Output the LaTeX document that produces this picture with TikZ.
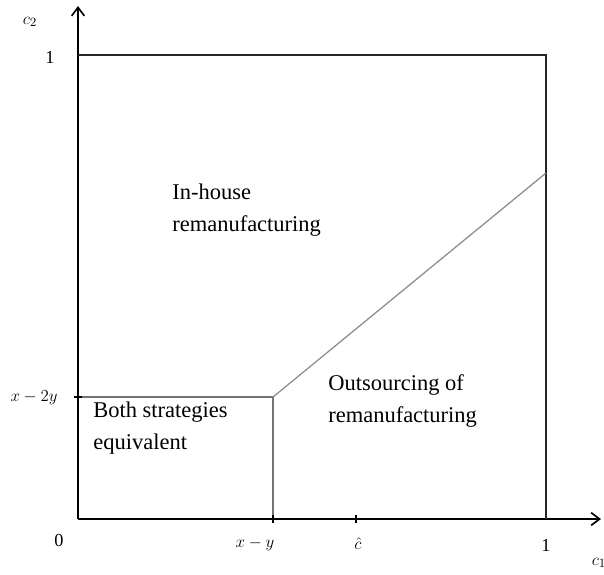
\documentclass[tikz,border=0pt]{standalone}
\usepackage{fontspec}
\setmainfont{Liberation Serif}
\usetikzlibrary{positioning,arrows.meta}
\tikzset{>={Straight Barb[length=6pt,width=9pt,line width=1.2pt]}}
\tikzset{region/.style={anchor=base west,align=left,inner sep=0pt,font=\fontsize{16}{22.5}\selectfont},
  axlabel/.style={font=\fontsize{13}{15}\selectfont}}

\begin{document}
\begin{tikzpicture}[x=0.025cm,y=-0.025cm]
\useasboundingbox (0,0) rectangle (604,574);

\coordinate (o) at (78,519);
\coordinate (xend) at (601,519);
\coordinate (yend) at (78,6);
\coordinate (tl) at (78,55);
\coordinate (tr) at (546,55);
\coordinate (br) at (546,519);
\coordinate (xy) at (273,519);
\coordinate (x2y) at (78,397);
\coordinate (k) at (273,397);
\coordinate (rr) at (546,173);
\coordinate (ch) at (356,519);

% axes and box
\draw[->,line width=1.4pt] (o) --(xend);
\draw[->,line width=1.4pt] (o) --(yend);
\draw[line width=1.6pt,black!85] (tl) --(tr) --(br);

% region borders
\draw[line width=0.9pt,black!55] (x2y) --(k) --(xy);
\draw[line width=0.9pt,black!45] (k) --(rr);

% ticks
\draw[line width=1.2pt] ([yshift=3pt]xy) --([yshift=-3pt]xy);
\draw[line width=1.2pt] ([yshift=3pt]ch) --([yshift=-3pt]ch);
\draw[line width=1.2pt] ([xshift=-3pt]x2y) --([xshift=3pt]x2y);

% axis labels
\node[axlabel] (c2) at (30,22){$c_2$};
\node[axlabel] (one2) at (50,57){1};
\node[axlabel] (lx2y) at (34,398){$x-2y$};
\node[axlabel] (zero) at (59,540){0};
\node[axlabel] (lxy) at (255,544){$x-y$};
\node[axlabel] (lch) at (358,544){$\hat{c}$};
\node[axlabel] (one1) at (546,545){1};
\node[axlabel] (c1) at (599,563){$c_1$};

% regions
\node[region] (inh) at (172,231){In-house\\remanufacturing};
\node[region] (out) at (328,422){Outsourcing of\\remanufacturing};
\node[region] (both) at (93,449){Both strategies\\equivalent};

\end{tikzpicture}
\end{document}
